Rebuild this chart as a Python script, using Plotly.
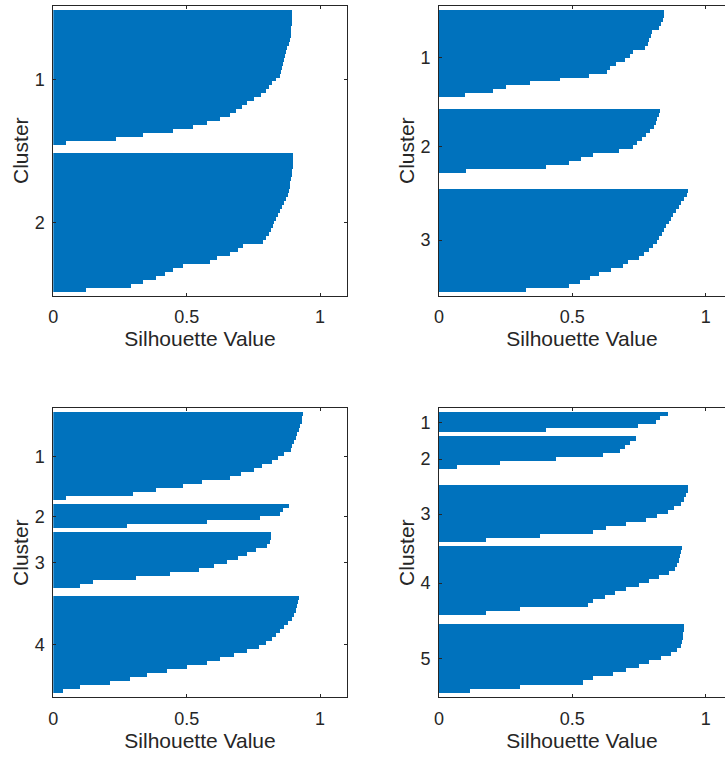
import plotly.graph_objects as go

# Sorted silhouette values per cluster, for k = 2, 3, 4 and 5 clusters
k2_c1 = [0.896, 0.896, 0.895, 0.895, 0.893, 0.892, 0.891, 0.888, 0.885, 0.877,
         0.875, 0.870, 0.867, 0.863, 0.860, 0.856, 0.850, 0.837, 0.821, 0.810,
         0.798, 0.779, 0.754, 0.729, 0.709, 0.687, 0.664, 0.627, 0.576, 0.526,
         0.451, 0.338, 0.238, 0.050, 0.0]
k2_c2 = [0.900, 0.900, 0.898, 0.898, 0.897, 0.896, 0.893, 0.890, 0.887, 0.885,
         0.880, 0.872, 0.865, 0.858, 0.850, 0.842, 0.837, 0.830, 0.825, 0.818,
         0.808, 0.799, 0.789, 0.714, 0.692, 0.664, 0.614, 0.589, 0.489, 0.451,
         0.420, 0.388, 0.338, 0.294, 0.125]

k3_c1 = [0.844, 0.843, 0.839, 0.833, 0.826, 0.798, 0.793, 0.788, 0.783, 0.771,
         0.726, 0.716, 0.696, 0.664, 0.641, 0.631, 0.564, 0.452, 0.340, 0.253,
         0.203, 0.097, 0.0, 0.0]
k3_c2 = [0.828, 0.826, 0.819, 0.813, 0.806, 0.791, 0.776, 0.761, 0.741, 0.726,
         0.676, 0.577, 0.533, 0.489, 0.402, 0.103, 0.0, 0.0, 0.0]
k3_c3 = [0.935, 0.929, 0.919, 0.909, 0.898, 0.888, 0.878, 0.869, 0.861, 0.851,
         0.843, 0.836, 0.826, 0.816, 0.803, 0.786, 0.770, 0.751, 0.707, 0.689,
         0.645, 0.601, 0.567, 0.527, 0.489, 0.328]

k4_c1 = [0.937, 0.935, 0.932, 0.927, 0.922, 0.915, 0.910, 0.905, 0.897, 0.892,
         0.865, 0.842, 0.821, 0.783, 0.754, 0.704, 0.664, 0.558, 0.489, 0.388,
         0.300, 0.050]
k4_c2 = [0.885, 0.862, 0.850, 0.777, 0.576, 0.276]
k4_c3 = [0.817, 0.816, 0.812, 0.802, 0.762, 0.727, 0.692, 0.652, 0.602, 0.549,
         0.439, 0.313, 0.150, 0.100, 0.0]
k4_c4 = [0.922, 0.920, 0.915, 0.910, 0.902, 0.895, 0.880, 0.865, 0.852, 0.837,
         0.821, 0.799, 0.774, 0.727, 0.677, 0.627, 0.576, 0.501, 0.426, 0.351,
         0.288, 0.213, 0.100, 0.038]

k5_c1 = [0.857, 0.828, 0.813, 0.745, 0.402]
k5_c2 = [0.738, 0.716, 0.699, 0.679, 0.614, 0.440, 0.228, 0.066, 0.0, 0.0, 0.0]
k5_c3 = [0.935, 0.933, 0.925, 0.919, 0.907, 0.882, 0.857, 0.819, 0.776, 0.701,
         0.626, 0.577, 0.377, 0.178]
k5_c4 = [0.910, 0.908, 0.903, 0.898, 0.894, 0.885, 0.861, 0.826, 0.788, 0.751,
         0.701, 0.658, 0.624, 0.577, 0.558, 0.303, 0.178, 0.0]
k5_c5 = [0.919, 0.918, 0.915, 0.913, 0.910, 0.908, 0.894, 0.869, 0.832, 0.788,
         0.748, 0.701, 0.651, 0.577, 0.539, 0.303, 0.116]

panels = [
    [k2_c1, k2_c2],
    [k3_c1, k3_c2, k3_c3],
    [k4_c1, k4_c2, k4_c3, k4_c4],
    [k5_c1, k5_c2, k5_c3, k5_c4, k5_c5],
]
x_ticks = [0, 0.5, 1]
x_tick_text = ["0", "0.5", "1"]

BAR_COLOR = "#0072BD"
INK = "#262626"
FONT = "Liberation Sans, Arial, sans-serif"
W, H = 725, 762

# plot-area pixel boxes (left, right, top, bottom)
col_px = [(53.3, 346.7), (439.0, 725.0)]
row_px = [(5.7, 295.7), (408.3, 697.0)]
full_width_px = 346.7 - 53.3  # width that spans x = 0 .. 1.1


def layout_rows(clusters, gap=1, pad=1):
    """Stack clusters top-to-bottom with empty rows between them."""
    ys, xs, ticks = [], [], []
    pos = pad
    for i, vals in enumerate(clusters):
        if i > 0:
            pos += gap
        rows = [pos + j + 0.5 for j in range(len(vals))]
        ys.extend(rows)
        xs.extend(vals)
        ticks.append(pos + len(vals) / 2)
        pos += len(vals)
    total = pos + pad
    return xs, ys, ticks, total


fig = go.Figure()
for idx, clusters in enumerate(panels):
    r, c = divmod(idx, 2)
    n = idx + 1
    xa = "x" if n == 1 else f"x{n}"
    ya = "y" if n == 1 else f"y{n}"
    xs, ys, ticks, total = layout_rows(clusters)
    fig.add_trace(go.Bar(
        x=xs, y=ys, orientation="h", width=1.0,
        marker=dict(color=BAR_COLOR, line=dict(width=0)),
        xaxis=xa, yaxis=ya, hoverinfo="skip", showlegend=False,
    ))

    left, right = col_px[c]
    top, bottom = row_px[r]
    x_max = 1.1 * (right - left) / full_width_px
    xkey = "xaxis" if n == 1 else f"xaxis{n}"
    ykey = "yaxis" if n == 1 else f"yaxis{n}"
    fig.update_layout({
        xkey: dict(
            domain=[left / W, right / W], range=[0, x_max], anchor=ya,
            automargin=False,
            tickvals=x_ticks, ticktext=x_tick_text,
            ticks="inside", ticklen=3, tickcolor=INK, tickwidth=1,
            ticklabelstandoff=5,
            showline=True, linecolor=INK, linewidth=1, mirror="ticks",
            showgrid=False, zeroline=False,
            tickfont=dict(family=FONT, size=18, color=INK),
            title=dict(text="Silhouette Value",
                       font=dict(family=FONT, size=21, color=INK),
                       standoff=4),
            fixedrange=True,
        ),
        ykey: dict(
            domain=[1 - bottom / H, 1 - top / H], range=[total, 0], anchor=xa,
            automargin=False,
            tickvals=ticks, ticktext=[str(i + 1) for i in range(len(clusters))],
            ticks="inside", ticklen=3, tickcolor=INK, tickwidth=1,
            ticklabelstandoff=4,
            showline=True, linecolor=INK, linewidth=1,
            mirror="ticks" if c == 0 else False,
            showgrid=False, zeroline=False,
            tickfont=dict(family=FONT, size=18, color=INK),
            title=dict(text="Cluster",
                       font=dict(family=FONT, size=21, color=INK),
                       standoff=0),
            fixedrange=True,
        ),
    })

fig.update_layout(
    width=W, height=H,
    margin=dict(l=0, r=0, t=0, b=0),
    paper_bgcolor="white", plot_bgcolor="white",
    bargap=0,
)

fig.write_html("out.html", config={"displayModeBar": False})
